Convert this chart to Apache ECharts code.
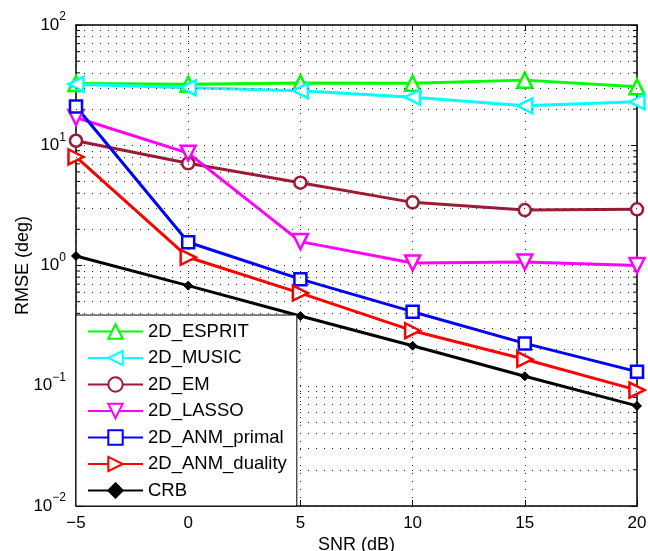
<!DOCTYPE html>
<html><head><meta charset="utf-8">
<script src="https://cdn.jsdelivr.net/npm/echarts@6/dist/echarts.min.js"></script>
<style>html,body{margin:0;padding:0;background:#fff}#c{width:648px;height:551px}</style>
</head><body><div id="c"></div>
<script>
const snr = [-5, 0, 5, 10, 15, 20];
const esprit = [32.7, 32.2, 33.0, 32.8, 34.8, 30.6];
const music = [32.2, 30.1, 28.4, 25.1, 21.3, 23.0];
const em = [10.9, 7.08, 4.88, 3.35, 2.89, 2.93];
const lasso = [17.0, 8.6, 1.58, 1.05, 1.07, 1.0];
const primal = [21.0, 1.56, 0.77, 0.413, 0.225, 0.131];
const duality = [8.0, 1.17, 0.59, 0.287, 0.166, 0.092];
const crb = [1.2, 0.68, 0.38, 0.215, 0.12, 0.068];
const names = ['2D_ESPRIT', '2D_MUSIC', '2D_EM', '2D_LASSO', '2D_ANM_primal', '2D_ANM_duality', 'CRB'];
const colors = ['#00ff00', '#00ffff', '#9e1a36', '#ff00ff', '#0000ff', '#ff0000', '#000000'];
const xTickLabels = ['\u22125', '0', '5', '10', '15', '20'];
const yDecades = [0.01, 0.1, 1, 10];
const minorMultipliers = [2, 3, 4, 5, 6, 7, 8, 9];

const minorValues = [];
yDecades.forEach(d => minorMultipliers.forEach(m => minorValues.push(+(d * m).toPrecision(3))));

const FONT = 'Liberation Sans, Arial, Helvetica, sans-serif';
const chart = echarts.init(document.getElementById('c'), null, {renderer: 'canvas'});

function mk(name, data, color, symbol, size, rot, filled) {
  return {
    name: name, type: 'line', data: snr.map((x, i) => [x, data[i]]),
    color: color, clip: false,
    symbol: symbol, symbolSize: size, symbolRotate: rot,
    showAllSymbol: true,
    lineStyle: {color: color, width: 3},
    itemStyle: {color: filled ? color : '#fff', borderColor: color, borderWidth: filled ? 1 : 2.5},
    emphasis: {disabled: true}, animation: false, z: 3
  };
}

const dotted = {color: '#222', width: 1, type: [1, 7]};

const option = {
  animation: false,
  backgroundColor: '#fff',
  textStyle: {fontFamily: FONT},
  grid: {left: 76, right: 11, top: 25, bottom: 45, containLabel: false, outerBoundsMode: 'none'},
  xAxis: [{
    type: 'value', min: -5, max: 20, interval: 5, position: 'bottom',
    name: 'SNR (dB)', nameLocation: 'middle', nameGap: 30, nameMoveOverlap: false,
    nameTextStyle: {fontSize: 18, color: '#000', fontFamily: FONT},
    axisLine: {onZero: false, lineStyle: {color: '#000', width: 1.5}},
    axisTick: {inside: true, length: 6, lineStyle: {color: '#000'}},
    axisLabel: {fontSize: 17, color: '#000', margin: 9, fontFamily: FONT,
      formatter: v => xTickLabels[snr.indexOf(v)]},
    splitLine: {show: true, lineStyle: dotted}
  }, {
    type: 'value', min: -5, max: 20, interval: 5, position: 'top',
    axisLine: {onZero: false, lineStyle: {color: '#000', width: 1.5}},
    axisTick: {inside: true, length: 6, lineStyle: {color: '#000'}},
    axisLabel: {show: false}, splitLine: {show: false}
  }],
  yAxis: [{
    type: 'log', logBase: 10, min: 0.01, max: 100, position: 'left',
    name: 'RMSE (deg)', nameLocation: 'middle', nameGap: 44, nameRotate: 90, nameMoveOverlap: false,
    nameTextStyle: {fontSize: 18, color: '#000', fontFamily: FONT},
    axisLine: {onZero: false, lineStyle: {color: '#000', width: 1.5}},
    axisTick: {inside: true, length: 6, lineStyle: {color: '#000'}},
    axisLabel: {margin: 10, color: '#000', fontFamily: FONT,
      formatter: v => {
        const e = Math.round(Math.log10(v));
        return '{b|10}{s|' + (e < 0 ? '\u2212' + (-e) : e) + '}';
      },
      rich: {
        b: {fontSize: 17, lineHeight: 17, verticalAlign: 'middle', fontFamily: FONT, color: '#000'},
        s: {fontSize: 12, lineHeight: 12, padding: [0, 0, 16, 0], verticalAlign: 'middle', fontFamily: FONT, color: '#000'}
      }},
    splitLine: {show: true, lineStyle: dotted}
  }, {
    type: 'log', logBase: 10, min: 0.01, max: 100, position: 'right',
    axisLine: {onZero: false, lineStyle: {color: '#000', width: 1.5}},
    axisTick: {inside: true, length: 6, lineStyle: {color: '#000'}},
    axisLabel: {show: false}, splitLine: {show: false}
  }],
  legend: {
    orient: 'vertical', left: 76, bottom: 45,
    data: names,
    itemWidth: 55, itemHeight: 18, itemGap: 7.5,
    padding: [7, 10, 6, 11],
    backgroundColor: '#fff', borderColor: '#000', borderWidth: 1, borderRadius: 0,
    textStyle: {fontSize: 18.5, color: '#000', fontFamily: FONT},
    selectedMode: false, z: 10
  },
  series: [
    {
      name: 'minorGrid', type: 'line', data: [], silent: true, z: 1,
      markLine: {
        silent: true, symbol: 'none', label: {show: false}, animation: false,
        lineStyle: dotted, emphasis: {disabled: true},
        data: minorValues.map(v => ({yAxis: v}))
      }
    },
    {
      name: 'minorTicks', type: 'custom', silent: true, z: 2,
      data: minorValues.map(v => [v]),
      renderItem: (params, api) => {
        const v = api.value(0);
        const a = api.coord([-5, v]);
        const b = api.coord([20, v]);
        return {
          type: 'group', children: [
            {type: 'line', shape: {x1: a[0], y1: a[1], x2: a[0] + 4, y2: a[1]}, style: {stroke: '#000', lineWidth: 1}},
            {type: 'line', shape: {x1: b[0], y1: b[1], x2: b[0] - 4, y2: b[1]}, style: {stroke: '#000', lineWidth: 1}}
          ]
        };
      },
      encode: {y: 0}
    },
    mk(names[0], esprit, colors[0], 'triangle', 15, 0, false),
    mk(names[1], music, colors[1], 'triangle', 15, 90, false),
    mk(names[2], em, colors[2], 'circle', 12, 0, false),
    mk(names[3], lasso, colors[3], 'triangle', 15, 180, false),
    mk(names[4], primal, colors[4], 'rect', 12, 0, false),
    mk(names[5], duality, colors[5], 'triangle', 15, -90, false),
    mk(names[6], crb, colors[6], 'diamond', 9, 0, true)
  ]
};
chart.setOption(option);
</script>
</body></html>
